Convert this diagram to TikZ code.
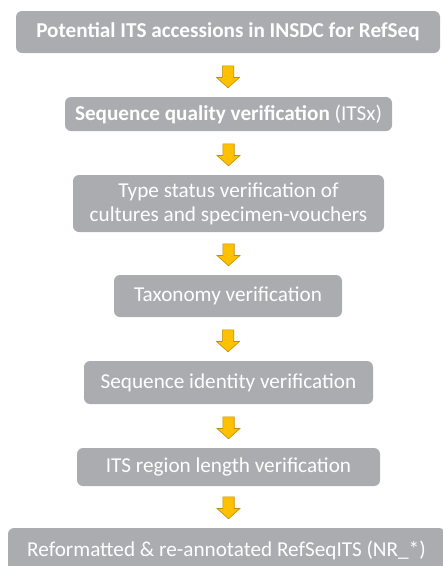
\documentclass[tikz,border=0pt]{standalone}
\usepackage{fontspec}
\setmainfont{Carlito}
\usetikzlibrary{calc}
\definecolor{boxgray}{RGB}{171,172,175}
\definecolor{arrowfill}{RGB}{255,192,0}
\definecolor{arrowline}{RGB}{191,144,0}
\tikzset{
  stepbox/.style={fill=boxgray, rounded corners=6pt, text=white, inner sep=0pt,
    align=center, font=\fontsize{21.2}{24}\selectfont},
  blockarr/.style={fill=arrowfill, draw=arrowline, line width=0.6pt, line join=miter}
}
\newcommand\flowarrow[2]{%
  \draw[blockarr] ($(#1.south |- #2.north)+(0,-9)$) -- ++(-11.5,-10.3) -- ++(5.8,0)
    -- ++(0,-11.7) -- ++(11.4,0) -- ++(0,11.7) -- ++(5.8,0) -- cycle;}
\begin{document}
\begin{tikzpicture}[x=1pt,y=-1pt]
\useasboundingbox (0,0) rectangle (443,566);
\node[stepbox, minimum width=424pt, minimum height=42pt] (b1) at (228,32)
  {\bfseries Potential ITS accessions in INSDC for RefSeq};
\node[stepbox, minimum width=327pt, minimum height=34pt] (b2) at (228.5,114)
  {\bfseries Sequence quality verification \mdseries(ITSx)};
\node[stepbox, minimum width=311pt, minimum height=57pt] (b3) at (228.5,203.5)
  {Type status verification of\\cultures and specimen-vouchers};
\node[stepbox, minimum width=228pt, minimum height=42pt] (b4) at (228,296)
  {Taxonomy verification};
\node[stepbox, minimum width=289pt, minimum height=43pt] (b5) at (228.5,382.5)
  {Sequence identity verification};
\node[stepbox, minimum width=303pt, minimum height=38pt] (b6) at (228.5,467)
  {ITS region length verification};
\node[stepbox, minimum width=437pt, minimum height=44pt] (b7) at (226.5,550)
  {Reformatted \& re-annotated RefSeqITS (NR\_*)};
\flowarrow{b1}{b2}
\flowarrow{b2}{b3}
\flowarrow{b3}{b4}
\flowarrow{b4}{b5}
\flowarrow{b5}{b6}
\flowarrow{b6}{b7}
\end{tikzpicture}
\end{document}
